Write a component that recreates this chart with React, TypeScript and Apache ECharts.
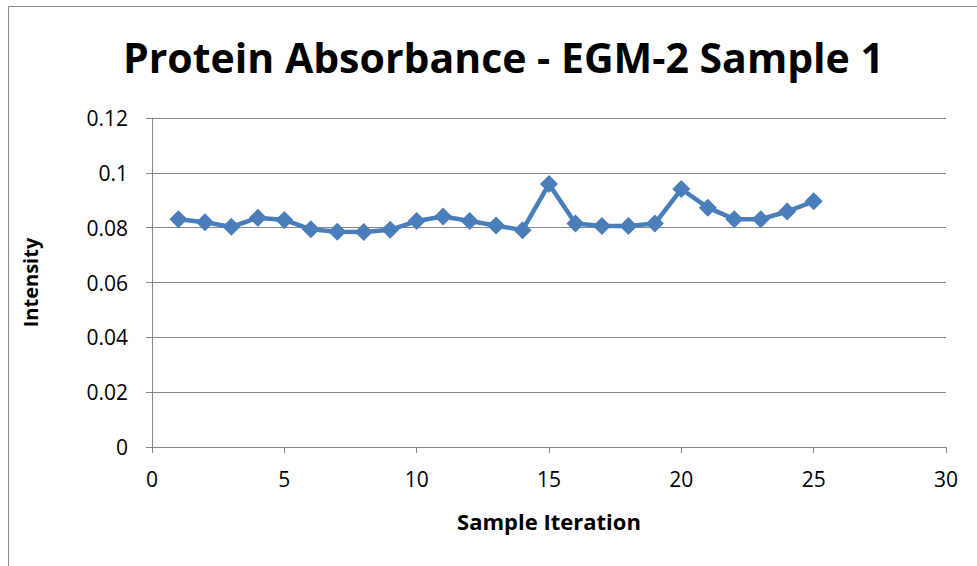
import React, { useEffect, useRef } from "react";
import * as echarts from "echarts";

const iterations = [1, 2, 3, 4, 5, 6, 7, 8, 9, 10, 11, 12, 13, 14, 15, 16, 17, 18, 19, 20, 21, 22, 23, 24, 25];
const intensity = [
  0.0831, 0.082, 0.0803, 0.0836, 0.0828, 0.0794, 0.0785, 0.0784, 0.0792, 0.0824,
  0.0841, 0.0824, 0.0808, 0.0791, 0.0959, 0.0815, 0.0806, 0.0806, 0.0815, 0.0941,
  0.0873, 0.0831, 0.0831, 0.0859, 0.0896,
];
const titleText = "Protein Absorbance - EGM-2 Sample 1";
const xName = "Sample Iteration";
const yName = "Intensity";

export default function App() {
  const ref = useRef<HTMLDivElement>(null);
  useEffect(() => {
    const chart = echarts.init(ref.current!, undefined, { renderer: "svg" });
    const font = "Open Sans, Liberation Sans, sans-serif";
    chart.setOption({
      animation: false,
      backgroundColor: "#ffffff",
      textStyle: { fontFamily: font },
      graphic: [
        {
          type: "rect",
          shape: { x: 8.5, y: 6.5, width: 1200, height: 800 },
          style: { fill: "none", stroke: "#878787", lineWidth: 1 },
          silent: true,
          z: 0,
        },
      ],
      title: {
        text: titleText,
        left: 118,
        top: 31,
        textStyle: { fontFamily: font, fontSize: 41, fontWeight: "bold", color: "#000" },
      },
      grid: { left: 152, right: 31, top: 118, bottom: 119 },
      xAxis: {
        type: "value",
        min: 0,
        max: 30,
        interval: 5,
        name: xName,
        nameLocation: "middle",
        nameGap: 63,
        nameTextStyle: { fontFamily: font, fontSize: 22, fontWeight: "bold", color: "#000" },
        axisLine: { show: true, lineStyle: { color: "#868686", width: 1 } },
        axisTick: { show: true, inside: false, length: 6, lineStyle: { color: "#868686" } },
        axisLabel: { fontSize: 21, color: "#000", margin: 21, fontFamily: font },
        splitLine: { show: false },
      },
      yAxis: {
        type: "value",
        min: 0,
        max: 0.12,
        interval: 0.02,
        name: yName,
        nameLocation: "middle",
        nameGap: 112,
        nameRotate: 90,
        nameTextStyle: { fontFamily: font, fontSize: 20, fontWeight: "bold", color: "#000" },
        axisLine: { show: true, lineStyle: { color: "#868686", width: 1 } },
        axisTick: { show: true, inside: false, length: 6, lineStyle: { color: "#868686" } },
        axisLabel: {
          fontSize: 21,
          color: "#000",
          margin: 24,
          fontFamily: font,
          formatter: (v: number) => String(+v.toFixed(2)),
        },
        splitLine: { show: true, lineStyle: { color: "#868686", width: 1 } },
      },
      series: [
        {
          type: "line",
          data: iterations.map((x, i) => [x, intensity[i]]),
          symbol: "diamond",
          symbolSize: 18,
          showSymbol: true,
          lineStyle: { color: "#4A7EBB", width: 4.5 },
          itemStyle: { color: "#4A7EBB" },
        },
      ],
    });
    return () => chart.dispose();
  }, []);
  return (
    <div
      ref={ref}
      style={{ position: "fixed", left: 0, top: 0, width: 977, height: 566 }}
    />
  );
}
